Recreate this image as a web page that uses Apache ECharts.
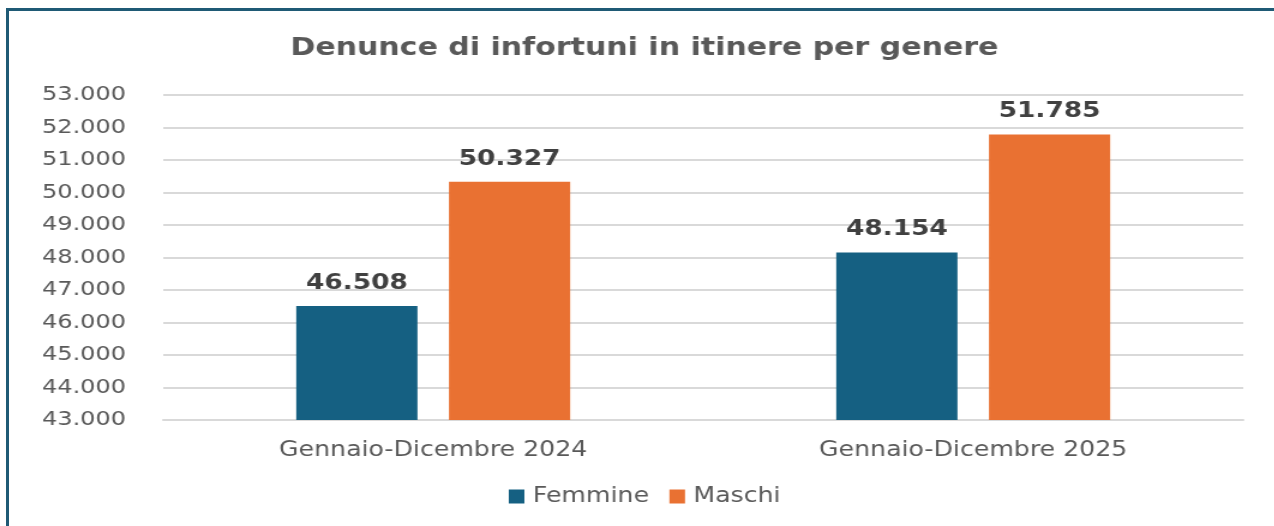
<!DOCTYPE html>
<html>
<head>
<meta charset="utf-8">
<script src="https://cdn.jsdelivr.net/npm/echarts@6/dist/echarts.min.js"></script>
<style>
  html, body { margin: 0; padding: 0; background: #fff; overflow: hidden; }
  #frame {
    position: absolute; left: 6px; top: 8px; width: 1268px; height: 518px;
    border-top: 3px solid #1f5a75; border-left: 3px solid #1f5a75;
    box-sizing: border-box;
  }
  /* the source picture is stretched sideways, so the chart is drawn narrower and widened */
  #chart {
    position: absolute; left: 0; top: 0; width: 1062px; height: 526px;
    transform: scaleX(1.2); transform-origin: 0 0;
  }
</style>
</head>
<body>
<div id="frame"></div>
<div id="chart"></div>
<script>
const categories = ["Gennaio-Dicembre 2024", "Gennaio-Dicembre 2025"];
const femmine = [46508, 48154];
const maschi = [50327, 51785];

const fmt = (v) => String(v).replace(/\B(?=(\d{3})+(?!\d))/g, ".");

const chart = echarts.init(document.getElementById("chart"));
const font = "'DejaVu Sans', sans-serif";

const valueLabel = {
  show: true, position: "top", distance: 12,
  fontFamily: font, fontSize: 22, fontWeight: "bold", color: "#404040",
  formatter: (p) => fmt(p.value),
};

chart.setOption({
  animation: false,
  title: {
    text: "Denunce di infortuni in itinere per genere",
    left: 237,
    top: 31,
    textStyle: { fontFamily: font, fontSize: 25, fontWeight: "bold", color: "#595959" },
  },
  legend: {
    bottom: 14,
    left: 419,
    itemWidth: 13,
    itemHeight: 14,
    itemGap: 17,
    icon: "rect",
    textStyle: { fontFamily: font, fontSize: 21, color: "#595959", padding: [0, 0, 0, 2] },
    data: ["Femmine", "Maschi"],
  },
  grid: { left: 136, right: 26, top: 95, bottom: 106 },
  xAxis: {
    type: "category",
    data: categories,
    axisTick: { show: false },
    axisLine: { lineStyle: { color: "#d9d9d9", width: 2 } },
    axisLabel: { fontFamily: font, fontSize: 21, color: "#595959", margin: 20 },
  },
  yAxis: {
    type: "value",
    min: 43000,
    max: 53000,
    interval: 1000,
    axisLabel: {
      fontFamily: font, fontSize: 20, color: "#595959", margin: 31,
      formatter: (v) => fmt(v),
    },
    splitLine: { lineStyle: { color: "#d9d9d9", width: 2 } },
  },
  series: [
    {
      name: "Femmine",
      type: "bar",
      data: femmine,
      barWidth: 101,
      barGap: "26%",
      itemStyle: { color: "#156082" },
      label: valueLabel,
    },
    {
      name: "Maschi",
      type: "bar",
      data: maschi,
      barWidth: 101,
      itemStyle: { color: "#E97132" },
      label: valueLabel,
    },
  ],
});
</script>
</body>
</html>
